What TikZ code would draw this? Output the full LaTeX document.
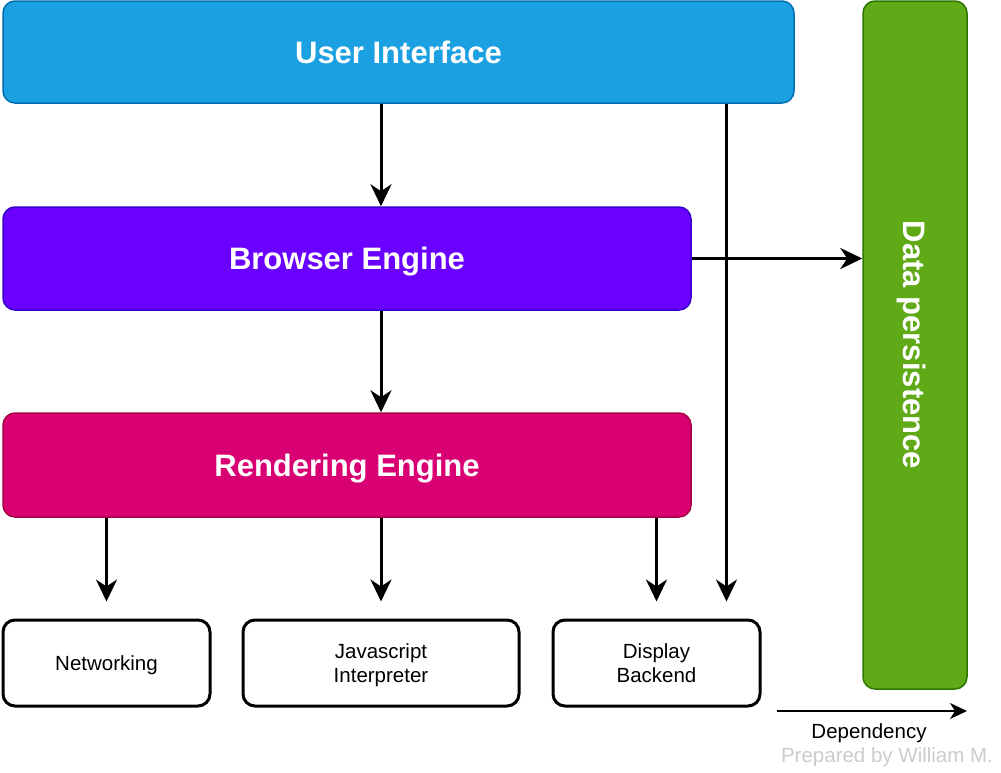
\documentclass[tikz,border=0pt]{standalone}
\usepackage{fontspec}
\setmainfont{Liberation Sans}
\usepackage{xcolor}
\usepackage{tikz}
\usetikzlibrary{arrows.meta}

\definecolor{uiblue}{HTML}{1BA1E2}
\definecolor{uiline}{HTML}{006EAF}
\definecolor{bepurple}{HTML}{6A00FF}
\definecolor{beline}{HTML}{3700CC}
\definecolor{remagenta}{HTML}{D80073}
\definecolor{reline}{HTML}{A50040}
\definecolor{dpgreen}{HTML}{60A917}
\definecolor{dpline}{HTML}{2D7600}
\definecolor{credit}{HTML}{CCCCCC}

\begin{document}
\begin{tikzpicture}[x=1pt,y=-1pt,
		layer/.style={draw,line width=1.5pt,rounded corners=12pt,text=white,inner sep=0pt,text depth=0pt,font=\fontsize{31}{36}\selectfont\bfseries},
		part/.style={draw,line width=3pt,rounded corners=12pt,fill=white,inner sep=0pt,text depth=0pt,align=center,minimum height=86pt,font=\fontsize{20.5}{24}\selectfont},
		dep/.style={line width=3pt,-{Stealth[length=22pt,width=21pt,inset=7pt]}},
	]
		\useasboundingbox (0,0) rectangle (1001,772);
		
		\node[layer,fill=uiblue,draw=uiline,minimum width=791pt,minimum height=102pt] (ui) at (398.5,52) {User Interface};
		\node[layer,fill=bepurple,draw=beline,minimum width=688pt,minimum height=103pt] (be) at (347,258.5) {Browser Engine};
		\node[layer,fill=remagenta,draw=reline,minimum width=688pt,minimum height=104pt] (re) at (347,465) {Rendering Engine};
		\node[layer,fill=dpgreen,draw=dpline,minimum width=104pt,minimum height=688pt] (dp) at (915,345) {};
		\node[rotate=-90,text=white,text depth=0pt,font=\fontsize{31}{36}\selectfont\bfseries] (dptext) at (dp.center) {Data persistence};
		
		\node[part,minimum width=207pt] (net) at (106.5,663) {Networking};
		\node[part,minimum width=276pt] (js) at (381,663) {Javascript\\Interpreter};
		\node[part,minimum width=207pt] (disp) at (656.5,663) {Display\\Backend};
		
		% dependencies
		\draw[dep] (ui.south -| js.north) -- (be.north -| js.north);
		\draw[dep] (be.south -| js.north) -- (re.north -| js.north);
		\draw[dep] (be.east) -- (be.east -| dp.west);
		\draw[dep] ([xshift=-35pt]disp.north east |- ui.south) -- ([xshift=-35pt,yshift=17pt]disp.north east);
		\draw[dep] (re.south -| net.north) -- ([yshift=17pt]net.north);
		\draw[dep] (re.south -| js.north) -- ([yshift=17pt]js.north);
		\draw[dep] (re.south -| disp.north) -- ([yshift=17pt]disp.north);
		
		% legend
		\coordinate (legstart) at (777,711);
		\coordinate (legend) at (967,711);
		\draw[line width=1.5pt,-{Stealth[length=17pt,width=16pt,inset=5pt]}] (legstart) -- (legend);
		\node[font=\fontsize{20.5}{24}\selectfont,text depth=0pt] (deplabel) at (869,731) {Dependency};
		\node[font=\fontsize{20.5}{24}\selectfont,text depth=0pt,text=credit] (author) at (887,755) {Prepared by William M.};
	\end{tikzpicture}
\end{document}
